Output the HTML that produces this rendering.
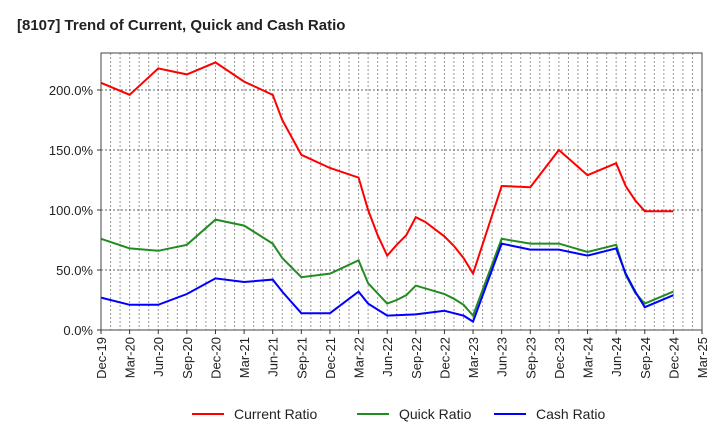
<!DOCTYPE html>
<html><head><meta charset="utf-8"><style>
body{margin:0;background:#fff;font-family:"Liberation Sans",sans-serif}
svg text{font-family:"Liberation Sans",sans-serif}
</style></head><body>
<svg id="c" width="720" height="440" xmlns="http://www.w3.org/2000/svg">
<text x="17" y="30" font-size="15" font-weight="bold" fill="#222">[8107]  Trend of Current, Quick and Cash Ratio</text>
<g id="grid"></g><g id="lines"></g><g id="axes"></g>
<g>
<line x1="192" y1="414" x2="224" y2="414" stroke="#f00" stroke-width="2"/>
<text x="234" y="419" font-size="14" fill="#222">Current Ratio</text>
<line x1="357" y1="414" x2="389" y2="414" stroke="#228b22" stroke-width="2"/>
<text x="399" y="419" font-size="14" fill="#222">Quick Ratio</text>
<line x1="494" y1="414" x2="526" y2="414" stroke="#00f" stroke-width="2"/>
<text x="536" y="419" font-size="14" fill="#222">Cash Ratio</text>
</g>
</svg>
<script>
const tickLabels=["Dec-19","Mar-20","Jun-20","Sep-20","Dec-20","Mar-21","Jun-21","Sep-21","Dec-21","Mar-22","Jun-22","Sep-22","Dec-22","Mar-23","Jun-23","Sep-23","Dec-23","Mar-24","Jun-24","Sep-24","Dec-24","Mar-25"];
const yTicks=[0,50,100,150,200];
const currentMonths=[0,3,6,9,12,15,18,19,21,24,27,28,29,30,31,32,33,34,35,36,37,38,39,42,45,48,51,54,55,56,57,60];
const currentValues=[206,196,218,213,223,207,196,175,146,135,127,100,79,62,71,79,94,90,84,78,70,60,47,120,119,150,129,139,120,108,99,99];
const quickMonths=[0,3,6,9,12,15,18,19,21,24,27,28,30,31,32,33,36,37,38,39,42,45,48,51,54,55,56,57,60];
const quickValues=[76,68,66,71,92,87,72,60,44,47,58,39,22,25,29,37,30,26,21,12,76,72,72,65,71,46,31,22,32];
const cashMonths=[0,3,6,9,12,15,18,19,21,24,27,28,30,33,36,37,38,39,42,45,48,51,54,55,56,57,60];
const cashValues=[27,21,21,30,43,40,42,32,14,14,32,22,12,13,16,14,12,7,72,67,67,62,68,47,32,19,29];
const L=101,R=702,T=53,B=330,NM=63;
const x=m=>L+m*(R-L)/NM, y=v=>B-v*1.2;
const NS="http://www.w3.org/2000/svg";
function mk(t,a,p){const e=document.createElementNS(NS,t);for(const k in a)e.setAttribute(k,a[k]);p.appendChild(e);return e;}
const g=document.getElementById('grid'),ax=document.getElementById('axes'),ln=document.getElementById('lines');
for(let m=1;m<NM;m++){const l=mk('line',{x1:x(m),x2:x(m),y1:T,y2:B,stroke:'#999','stroke-dasharray':'2,2','stroke-width':1},g);

}
yTicks.forEach(v=>{if(v>0){const l=mk('line',{x1:L,x2:R,y1:y(v),y2:y(v),stroke:'#666','stroke-dasharray':'2,2','stroke-width':1},g);

}
mk('line',{x1:L-4,x2:L,y1:y(v),y2:y(v),stroke:'#333'},ax);
const t=mk('text',{x:L-8,y:y(v)+5,'font-size':13,'text-anchor':'end',fill:'#222'},ax);t.textContent=v.toFixed(1)+'%';

});
tickLabels.forEach((s,i)=>{const xx=x(i*3);mk('line',{x1:xx,x2:xx,y1:B,y2:B+4,stroke:'#333'},ax);
const t=mk('text',{x:xx+5,y:B+7,'font-size':13,'text-anchor':'end',fill:'#222',transform:`rotate(-90 ${xx+5} ${B+7})`},ax);t.textContent=s;

});
const fr=mk('rect',{x:L,y:T,width:R-L,height:B-T,fill:'none',stroke:'#444','stroke-width':1},ax);


function series(ms,vs,c,n){const p=mk('polyline',{points:ms.map((m,i)=>x(m)+','+y(vs[i])).join(' '),fill:'none',stroke:c,'stroke-width':2},ln);

}
series(currentMonths,currentValues,'#f00','current-ratio-line');
series(quickMonths,quickValues,'#228b22','quick-ratio-line');
series(cashMonths,cashValues,'#00f','cash-ratio-line');
</script>
</body></html>
